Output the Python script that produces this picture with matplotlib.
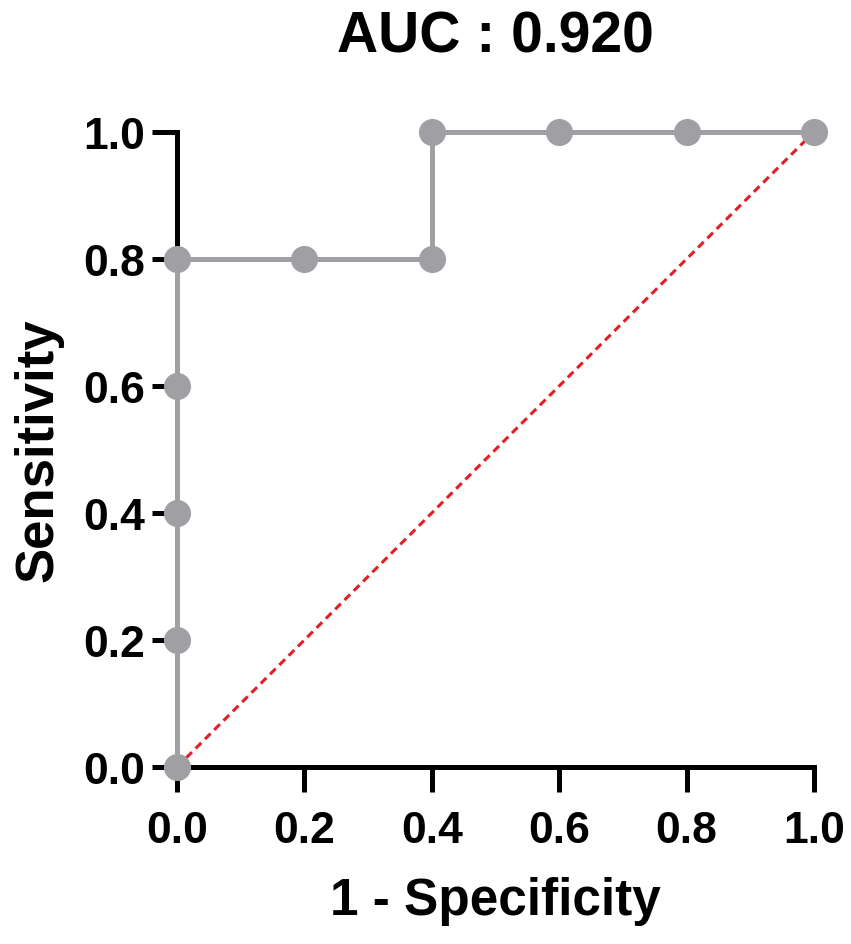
import matplotlib
matplotlib.use("Agg")
import matplotlib.pyplot as plt

fpr = [0.0, 0.0, 0.0, 0.0, 0.0, 0.2, 0.4, 0.4, 0.6, 0.8, 1.0]
tpr = [0.0, 0.2, 0.4, 0.6, 0.8, 0.8, 0.8, 1.0, 1.0, 1.0, 1.0]
ticks = [0.0, 0.2, 0.4, 0.6, 0.8, 1.0]
tick_labels = ["0.0", "0.2", "0.4", "0.6", "0.8", "1.0"]
auc_text = "AUC : 0.920"

plt.rcParams['font.family'] = ['Liberation Sans', 'DejaVu Sans']
plt.rcParams['font.weight'] = 'bold'

fig = plt.figure(figsize=(8.51, 9.45), dpi=100)
ax = fig.add_axes([0.208, 0.1873, 0.7485, 0.672])

ax.plot([0, 1], [0, 1], color='#e31e24', linestyle=(0, (2.6, 1.7)), linewidth=2.2, zorder=2, clip_on=False)
ax.plot(fpr, tpr, color='#a0a0a4', linewidth=3.6, marker='o', markersize=18.5,
        markerfacecolor='#a0a0a4', markeredgecolor='#a0a0a4', zorder=3, clip_on=False)

ax.set_xlim(0, 1)
ax.set_ylim(0, 1)
ax.set_xticks(ticks)
ax.set_yticks(ticks)
ax.set_xticklabels(tick_labels)
ax.set_yticklabels(tick_labels)
for s in ['top', 'right']:
    ax.spines[s].set_visible(False)
for s in ['left', 'bottom']:
    ax.spines[s].set_linewidth(3.6)
    ax.spines[s].set_color('black')
ax.tick_params(axis='both', direction='out', length=18, width=3.6, labelsize=32, colors='black')
ax.tick_params(axis='x', pad=13)
ax.tick_params(axis='y', pad=5)
for lab in ax.get_xticklabels() + ax.get_yticklabels():
    lab.set_fontweight('bold')

ax.set_xlabel("1 - Specificity", fontsize=37, fontweight='bold', labelpad=18)
ax.set_ylabel("Sensitivity", fontsize=38, fontweight='bold', labelpad=14)
ax.set_title(auc_text, fontsize=41, fontweight='bold', pad=58)

fig.savefig("out.png", dpi=100)
